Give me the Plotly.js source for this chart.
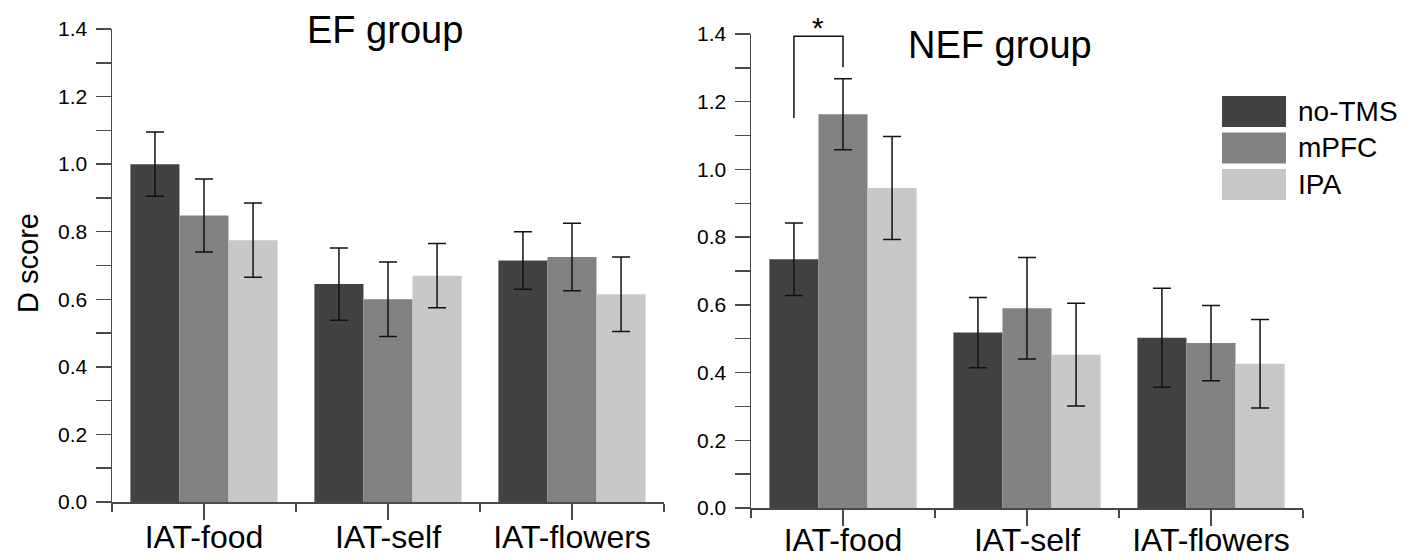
<!DOCTYPE html>
<html>
<head>
<meta charset="utf-8">
<script src="https://cdn.plot.ly/plotly-3.0.1.min.js"></script>
<style>html,body{margin:0;padding:0;background:#fff;}#chart{width:1418px;height:559px;}</style>
</head>
<body>
<div id="chart"></div>
<script>
// ---- data ----
const categories = ["IAT-food", "IAT-self", "IAT-flowers"];
const seriesNames = ["no-TMS", "mPFC", "IPA"];
const seriesColors = ["#424242", "#828282", "#c8c8c8"];
const panelTitles = ["EF group", "NEF group"];

// EF group
const efNoTMS = [1.00, 0.645, 0.715];
const efNoTMSErr = [0.095, 0.107, 0.085];
const efMPFC = [0.848, 0.600, 0.725];
const efMPFCErr = [0.108, 0.110, 0.100];
const efIPA = [0.775, 0.670, 0.615];
const efIPAErr = [0.110, 0.095, 0.110];

// NEF group
const nefNoTMS = [0.735, 0.518, 0.503];
const nefNoTMSErr = [0.107, 0.104, 0.146];
const nefMPFC = [1.163, 0.590, 0.487];
const nefMPFCErr = [0.105, 0.150, 0.111];
const nefIPA = [0.945, 0.453, 0.426];
const nefIPAErr = [0.152, 0.152, 0.131];

const yTickVals = [0, 0.2, 0.4, 0.6, 0.8, 1.0, 1.2, 1.4];
const yTitle = "D score";

// significance marker (NEF group, IAT-food, no-TMS vs mPFC)
const sigLabel = "*";
const sigTop = 1.393;
const sigLeftBottom = 1.152;
const sigRightBottom = 1.302;

// ---- build ----
const xIdx = categories.map((c, i) => i);
const efVals = [efNoTMS, efMPFC, efIPA];
const efErrs = [efNoTMSErr, efMPFCErr, efIPAErr];
const nefVals = [nefNoTMS, nefMPFC, nefIPA];
const nefErrs = [nefNoTMSErr, nefMPFCErr, nefIPAErr];

const traces = [];
function addPanel(vals, errs, xa, ya) {
  for (let s = 0; s < 3; s++) {
    traces.push({
      type: "bar",
      x: xIdx,
      y: vals[s],
      name: seriesNames[s],
      xaxis: xa, yaxis: ya,
      showlegend: false,
      marker: {color: seriesColors[s], line: {width: 0}},
      error_y: {type: "data", array: errs[s], visible: true, color: "#111", thickness: 1.5, width: 9}
    });
  }
}
addPanel(efVals, efErrs, "x", "y");
addPanel(nefVals, nefErrs, "x2", "y2");

const W = 1418, H = 559;
const axColor = "#4a4a4a";
const fontFam = "Liberation Sans, Arial, sans-serif";

function xAxis(d0, d1, anchor, standoff) {
  return {
    domain: [d0 / W, d1 / W], anchor: anchor,
    range: [-0.5, 2.5], tickmode: "array", tickvals: xIdx, ticktext: categories,
    showline: true, linecolor: axColor, linewidth: 1.5,
    ticks: "outside", ticklen: 16, tickwidth: 1.5, tickcolor: axColor,
    ticklabelstandoff: standoff,
    minor: {tickmode: "linear", tick0: 0.5, dtick: 1, ticks: "outside", ticklen: 8, tickwidth: 1.5, tickcolor: axColor},
    showgrid: false, zeroline: false, fixedrange: true,
    tickfont: {family: fontFam, size: 32, color: "#000"}
  };
}
function yAxis(bottom, top, anchor) {
  return {
    domain: [1 - bottom / H, 1 - top / H], anchor: anchor,
    range: [0, 1.4], tickmode: "array", tickvals: yTickVals, tickformat: ".1f",
    showline: true, linecolor: axColor, linewidth: 1.5,
    ticks: "outside", ticklen: 15, tickwidth: 1.5, tickcolor: axColor,
    ticklabelstandoff: 4,
    minor: {tickmode: "linear", tick0: 0, dtick: 0.1, ticks: "outside", ticklen: 15, tickwidth: 1.5, tickcolor: axColor},
    showgrid: false, zeroline: false, fixedrange: true,
    tickfont: {family: fontFam, size: 21, color: "#000"}
  };
}

const shapes = [];
const annotations = [];

// significance bracket, positioned from bar geometry
const bargap = 0.2;
const barW = (1 - bargap) / 3;
const xa0 = xIdx[0] - barW, xa1 = xIdx[0];
shapes.push({type: "path", xref: "x2", yref: "y2",
  path: `M ${xa0} ${sigLeftBottom} L ${xa0} ${sigTop} L ${xa1} ${sigTop} L ${xa1} ${sigRightBottom}`,
  line: {color: "#111", width: 1.5}});
annotations.push({xref: "x2", yref: "y2", x: (xa0 + xa1) / 2, y: sigTop, text: sigLabel, showarrow: false,
  yanchor: "bottom", yshift: -10, font: {family: fontFam, size: 30, color: "#000"}});

// panel titles
annotations.push({xref: "paper", yref: "paper", x: 385 / W, y: 1 - 30 / H, text: panelTitles[0], showarrow: false,
  xanchor: "center", yanchor: "middle", font: {family: fontFam, size: 38, color: "#000"}});
annotations.push({xref: "paper", yref: "paper", x: 1000 / W, y: 1 - 45 / H, text: panelTitles[1], showarrow: false,
  xanchor: "center", yanchor: "middle", font: {family: fontFam, size: 38, color: "#000"}});

// y title
annotations.push({xref: "paper", yref: "paper", x: 28 / W, y: 1 - 263 / H, text: yTitle, showarrow: false,
  textangle: -90, xanchor: "center", yanchor: "middle", font: {family: fontFam, size: 29, color: "#000"}});

// legend (drawn as swatches + labels)
const legX0 = 1222, legX1 = 1286, legTop = 96, legH = 31, legStep = 36.5;
seriesNames.forEach((n, i) => {
  const y0 = legTop + i * legStep;
  shapes.push({type: "rect", xref: "paper", yref: "paper", x0: legX0 / W, x1: legX1 / W,
    y0: 1 - y0 / H, y1: 1 - (y0 + legH) / H, fillcolor: seriesColors[i], line: {width: 0}});
  annotations.push({xref: "paper", yref: "paper", x: 1296 / W, y: 1 - (y0 + legH / 2) / H, text: n, showarrow: false,
    xanchor: "left", yanchor: "middle", font: {family: fontFam, size: 28, color: "#000"}});
});

const layout = {
  width: W, height: H,
  margin: {l: 0, r: 0, t: 0, b: 0, pad: 0},
  paper_bgcolor: "#fff", plot_bgcolor: "#fff",
  barmode: "group", bargap: bargap, bargroupgap: 0,
  showlegend: false,
  xaxis: xAxis(112, 664, "y", -10),
  yaxis: yAxis(502, 29, "x"),
  xaxis2: xAxis(751, 1303, "y2", -13),
  yaxis2: yAxis(508, 34, "x2"),
  shapes: shapes,
  annotations: annotations,
  font: {family: fontFam}
};

Plotly.newPlot("chart", traces, layout, {staticPlot: true, displayModeBar: false});
</script>
</body>
</html>
